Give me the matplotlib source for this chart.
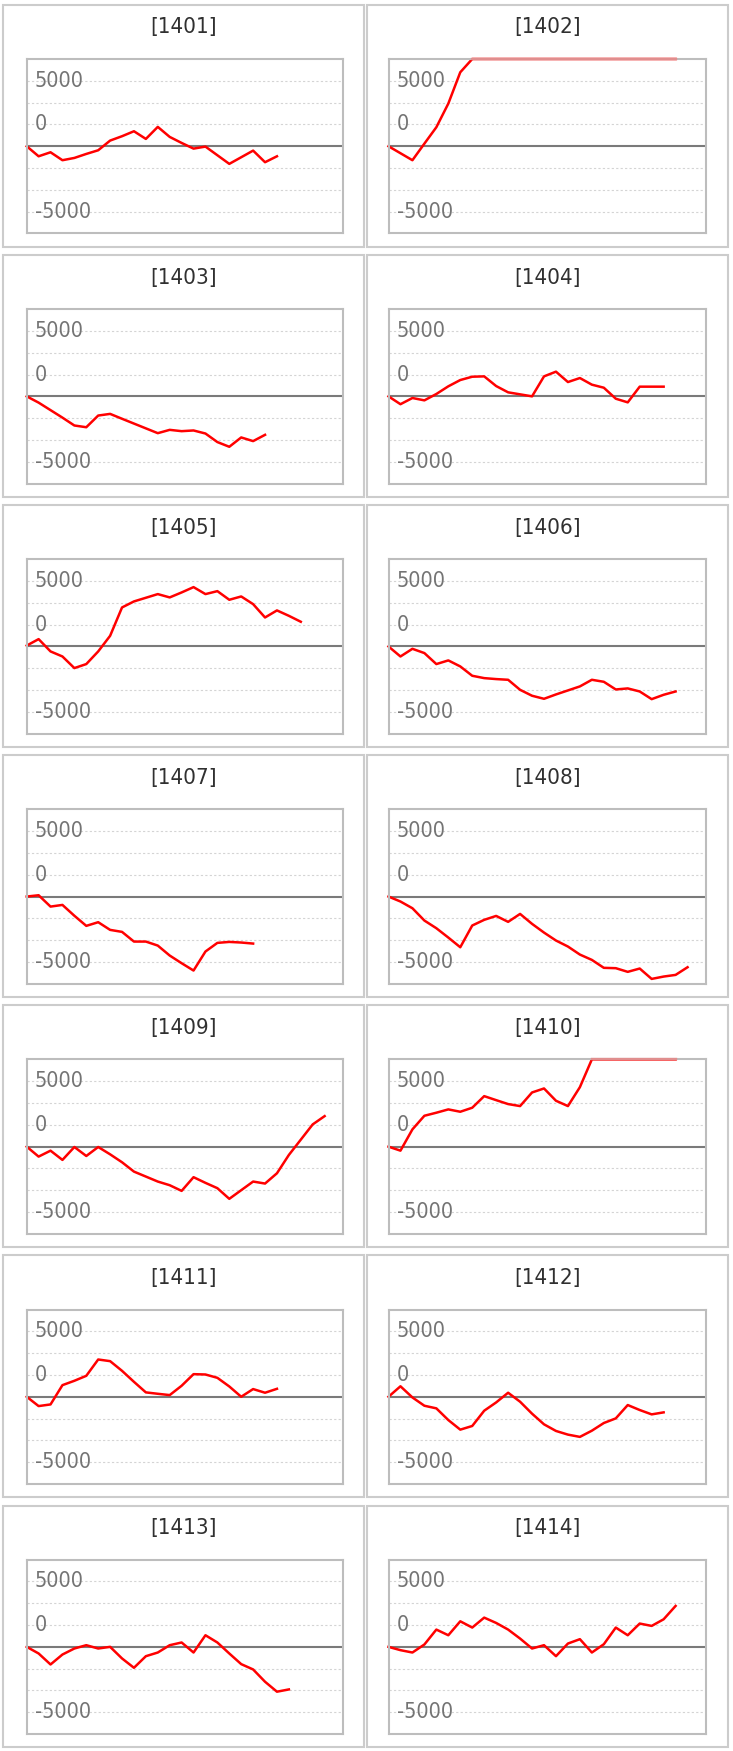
import numpy as np
import matplotlib
matplotlib.use('Agg')
import matplotlib.pyplot as plt
from matplotlib.patches import Rectangle

# cumulative P/L per trading day, one list per month
pnl_1401 = [0, -1150, -690, -1600, -1340, -880, -460, 650, 1150, 1720, 840, 2220,
            1070, 380, -270, -40, -1030, -2020, -1260, -500, -1830, -1150]
pnl_1402 = [0, -800, -1600, 300, 2180, 4890, 8480, 10200, 11000, 11600, 12100, 12800,
            13200, 13900, 14300, 14800, 15200, 15900, 16300, 16800, 17400, 17900, 18300,
            18800, 19200]
pnl_1403 = [0, -720, -1580, -2440, -3340, -3540, -2200, -2010, -2570, -3120, -3670,
            -4220, -3840, -3990, -3910, -4260, -5240, -5780, -4710, -5130, -4410]
pnl_1404 = [0, -900, -190, -460, 270, 1150, 1870, 2250, 2290, 1180, 460, 230, 0,
            2290, 2830, 1640, 2100, 1340, 990, -270, -690, 1110, 1110, 1110]
pnl_1405 = [100, 840, -570, -1150, -2480, -2020, -570, 1220, 4470, 5160, 5580, 6000,
            5620, 6190, 6800, 6000, 6340, 5350, 5730, 4850, 3320, 4130, 3510, 2830]
pnl_1406 = [0, -1150, -270, -760, -2020, -1600, -2290, -3360, -3630, -3740, -3820,
            -4970, -5650, -6000, -5500, -5040, -4580, -3820, -4050, -4930, -4810,
            -5160, -6040, -5540, -5160]
pnl_1407 = [0, 150, -1150, -960, -2200, -3360, -2940, -3820, -4050, -5160, -5160,
            -5620, -6760, -7640, -8480, -6300, -5310, -5200, -5270, -5390]
pnl_1408 = [0, -570, -1340, -2750, -3630, -4700, -5810, -3320, -2670, -2220, -2900,
            -1990, -3130, -4130, -5040, -5730, -6650, -7260, -8170, -8210, -8630,
            -8250, -9440, -9170, -8980, -8100]
pnl_1409 = [0, -1140, -460, -1520, -40, -1070, -40, -880, -1790, -2860, -3430, -4000,
            -4420, -5070, -3500, -4150, -4760, -5980, -4990, -4000, -4230, -3050,
            -950, 800, 2550, 3500]
pnl_1410 = [0, -460, 1980, 3540, 3890, 4270, 4000, 4460, 5790, 5330, 4880, 4650,
            6210, 6670, 5260, 4650, 6820, 10200, 11400, 12100, 12700, 13500, 14100,
            14800, 15300]
pnl_1411 = [0, -1070, -880, 1330, 1830, 2400, 4270, 4080, 2970, 1710, 500, 340, 190,
            1260, 2590, 2550, 2170, 1180, 0, 880, 460, 910]
pnl_1412 = [0, 1200, -80, -1030, -1330, -2670, -3770, -3350, -1600, -650, 460, -570,
            -1940, -3160, -3920, -4340, -4600, -3890, -3010, -2480, -950, -1520,
            -2020, -1790]
pnl_1413 = [0, -760, -2020, -880, -190, 190, -190, 0, -1330, -2400, -1070, -650, 190,
            500, -650, 1330, 500, -760, -1980, -2590, -4000, -5140, -4880]
pnl_1414 = [0, -380, -650, 270, 1980, 1330, 2930, 2210, 3350, 2740, 1980, 950, -190,
            190, -1070, 380, 880, -650, 300, 2210, 1330, 2670, 2400, 3160, 4690]

months = ['1401', '1402', '1403', '1404', '1405', '1406', '1407',
          '1408', '1409', '1410', '1411', '1412', '1413', '1414']
series = [pnl_1401, pnl_1402, pnl_1403, pnl_1404, pnl_1405, pnl_1406, pnl_1407,
          pnl_1408, pnl_1409, pnl_1410, pnl_1411, pnl_1412, pnl_1413, pnl_1414]

label_vals = [7500, 2500, -7500]
label_text = ['5000', '0', '-5000']
grid_vals = [-7500, -5000, -2500, 2500, 5000, 7500]
ylo, yhi = -10000, 10000

W, H = 733, 1751
ROW = 250.1
box_x = [(3.3, 363.7), (367, 727.6)]
plot_x = [(26.7, 342.5), (388.5, 705.5)]

fig = plt.figure(figsize=(W / 100, H / 100), dpi=100)
fig.patch.set_facecolor('white')

font = dict(family='DejaVu Sans', stretch='condensed')

for k, (name, vals) in enumerate(zip(months, series)):
    r, c = divmod(k, 2)
    top = r * ROW
    # panel frame
    bx0, bx1 = box_x[c]
    by0, by1 = top + 5, top + 246.7
    fig.add_artist(Rectangle((bx0 / W, 1 - by1 / H), (bx1 - bx0) / W, (by1 - by0) / H,
                             transform=fig.transFigure, fill=False,
                             edgecolor='#cccccc', lw=1.5))
    fig.text((bx0 + bx1) / 2 / W, 1 - (top + 27.5) / H, '[%s]' % name,
             ha='center', va='center', fontsize=16, color='#303030', **font)

    px0, px1 = plot_x[c]
    py0, py1 = top + 59, top + 233.5
    ax = fig.add_axes([px0 / W, 1 - py1 / H, (px1 - px0) / W, (py1 - py0) / H])
    ax.set_xlim(0, 26.5)
    ax.set_ylim(ylo, yhi)
    ax.set_xticks([])
    ax.set_yticks([])
    for s in ax.spines.values():
        s.set_color('#bdbdbd')
        s.set_linewidth(1.5)

    for g in grid_vals:
        ax.axhline(g, color='#d4d4d4', lw=0.8, ls=(0, (2, 2)), zorder=1)
    ax.axhline(0, color='#7a7a7a', lw=1.5, zorder=1.5)

    for v, t in zip(label_vals, label_text):
        ax.text(0.026, v, t, transform=ax.get_yaxis_transform(), ha='left',
                va='center', fontsize=15.5, color='#747474', **font)

    y = np.array(vals, dtype=float)
    x = np.arange(len(y))
    ax.plot(x, np.clip(y, ylo, yhi), color='#ff0000', lw=1.8, clip_on=False, zorder=2)
    over = np.where(y >= yhi, yhi, np.nan)
    ax.plot(x, over, color='#e08e8e', lw=1.7, clip_on=False, zorder=3)

fig.savefig('out.png', dpi=100, facecolor='white')
